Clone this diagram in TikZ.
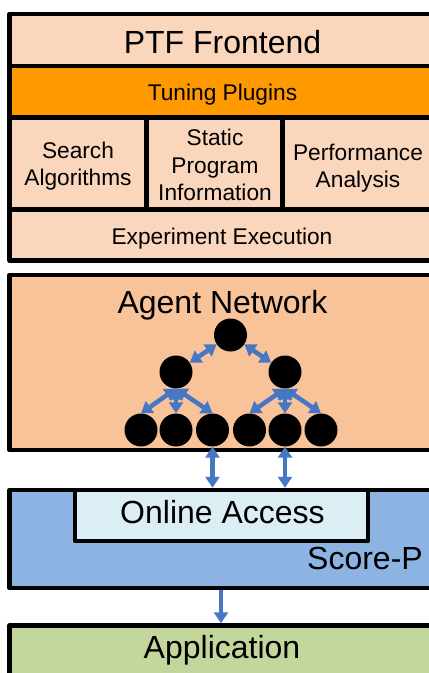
\documentclass[tikz,border=0pt]{standalone}
\usepackage{fontspec}
\setmainfont{Liberation Sans}
\usetikzlibrary{arrows.meta}
\definecolor{ptfc}{HTML}{FAD7BC}
\definecolor{tunc}{HTML}{FF9900}
\definecolor{agc}{HTML}{F9C39A}
\definecolor{spc}{HTML}{8DB3E2}
\definecolor{oac}{HTML}{DBEEF3}
\definecolor{apc}{HTML}{C3D69B}
\definecolor{arrc}{HTML}{4677C5}
\tikzset{
 box/.style={draw=black, line width=4.5pt, rectangle, inner sep=0pt, outer sep=0pt, anchor=north west, line join=round},
 big/.style={font=\fontsize{32}{36}\selectfont, inner sep=0pt, anchor=base},
 small/.style={font=\fontsize{22.7}{27.5}\selectfont, inner sep=0pt, align=center},
 agent/.style={circle, fill=black, minimum size=33pt, inner sep=0pt},
 dbl/.style={arrc, line width=4.5pt, {Triangle[width=14pt,length=11pt]}-{Triangle[width=14pt,length=11pt]}},
 one/.style={arrc, line width=4.5pt, -{Triangle[width=14pt,length=11pt]}},
}
\begin{document}
\begin{tikzpicture}[x=1pt,y=-1pt]
\useasboundingbox (0,0) rectangle (429,673);
\clip (0,0) rectangle (429,673);
% PTF frontend
\node[box, fill=ptfc, minimum width=430.3pt, minimum height=52pt] (ptf) at (9.7,14) {};
\node[box, fill=tunc, minimum width=430.3pt, minimum height=51.5pt] (tun) at (9.7,66) {};
\node[box, fill=ptfc, minimum width=136.8pt, minimum height=92pt] (sa) at (9.7,117.5) {};
\node[box, fill=ptfc, minimum width=136pt, minimum height=92pt] (spi) at (146.5,117.5) {};
\node[box, fill=ptfc, minimum width=157.5pt, minimum height=92pt] (pa) at (282.5,117.5) {};
\node[box, fill=ptfc, minimum width=430.3pt, minimum height=51pt] (ee) at (9.7,209.5) {};
% Agent network
\node[box, fill=agc, minimum width=430.3pt, minimum height=175pt] (ag) at (9.7,275) {};
% Score-P
\node[box, fill=spc, minimum width=430.3pt, minimum height=98pt] (sp) at (9.7,490) {};
\node[box, fill=oac, minimum width=293pt, minimum height=51pt] (oa) at (75,490) {};
% Application
\node[box, fill=apc, minimum width=430.3pt, minimum height=70pt] (app) at (9.7,625.5) {};
% texts
\node[big] (tptf) at (222.5,53) {PTF Frontend};
\node[small, anchor=base] (ttun) at (222.5,100) {Tuning Plugins};
\node[small] (tsa) at (78,166) {Search\\Algorithms};
\node[small] (tspi) at (215,165) {Static\\Program\\Information};
\node[small] (tpa) at (358,168) {Performance\\Analysis};
\node[small, anchor=base] (tee) at (222,244) {Experiment Execution};
\node[big] (tag) at (222.5,313) {Agent Network};
\node[big] (toa) at (222.5,523) {Online Access};
\node[big, anchor=base east] (tsp) at (423,569) {Score-P};
\node[big] (tap) at (222,658) {Application};
% agents
\node[agent] (root) at (230.5,335) {};
\node[agent] (m1) at (176,372) {};
\node[agent] (m2) at (285,372) {};
\node[agent] (l1) at (141,430) {};
\node[agent] (l2) at (176,430) {};
\node[agent] (l3) at (212.5,430) {};
\node[agent] (l4) at (249.5,430) {};
\node[agent] (l5) at (285,430) {};
\node[agent] (l6) at (321,430) {};
% arrows
\draw[dbl] (root) -- (m1);
\draw[dbl] (root) -- (m2);
\draw[dbl] (m1.south) -- (l1.north);
\draw[dbl] (m1.south) -- (l2.north);
\draw[dbl] (m1.south) -- (l3.north);
\draw[dbl] (m2.south) -- (l4.north);
\draw[dbl] (m2.south) -- (l5.north);
\draw[dbl] (m2.south) -- (l6.north);
\draw[dbl, shorten >=2.25pt] (l3.south) -- (l3.south |- oa.north);
\draw[dbl, shorten >=2.25pt] (l5.south) -- (l5.south |- oa.north);
\coordinate (cx) at (221,600);
\draw[one, shorten <=2.25pt, shorten >=2.25pt] (sp.south -| cx) -- (app.north -| cx);
\end{tikzpicture}
\end{document}
